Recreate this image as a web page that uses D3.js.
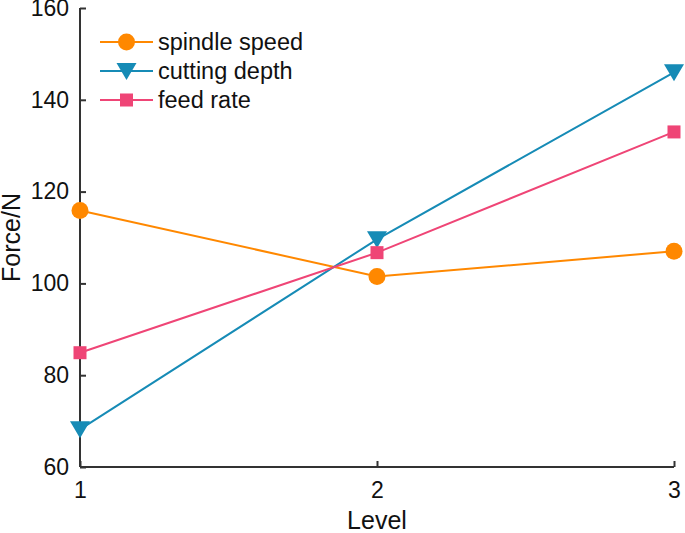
<!DOCTYPE html>
<html>
<head>
<meta charset="utf-8">
<script src="https://cdn.jsdelivr.net/npm/d3@7"></script>
<style>
  body { margin: 0; background: #fff; }
  text { font-family: "Liberation Sans", Arial, sans-serif; fill: #111; }
</style>
</head>
<body>
<svg id="chart" width="685" height="533"></svg>
<script>
// data
var levels = [1, 2, 3];
var spindleSpeed = [115.9, 101.5, 107];
var cuttingDepth = [68.2, 109.6, 146];
var feedRate = [84.9, 106.7, 133];
var yTicks = [60, 80, 100, 120, 140, 160];
var seriesNames = ['spindle speed', 'cutting depth', 'feed rate'];

var svg = d3.select('#chart');
var margin = { left: 80, right: 11, top: 8, bottom: 66 };
var width = 685 - margin.left - margin.right;
var height = 533 - margin.top - margin.bottom;

var x = d3.scaleLinear().domain([1, 3]).range([0, width]);
var y = d3.scaleLinear().domain([60, 160]).range([height, 0]);

var g = svg.append('g').attr('transform', 'translate(' + margin.left + ',' + margin.top + ')');

var series = [
  { name: seriesNames[0], values: spindleSpeed, color: '#ff8800', shape: 'circle' },
  { name: seriesNames[1], values: cuttingDepth, color: '#168bb6', shape: 'triangle' },
  { name: seriesNames[2], values: feedRate, color: '#ef4576', shape: 'square' }
];

// axes, ticks pointing inward
var xAxis = g.append('g').attr('transform', 'translate(0,' + height + ')')
  .call(d3.axisBottom(x).tickValues(levels).tickFormat(d3.format('d')).tickSizeInner(-6).tickSizeOuter(0).tickPadding(15));
var yAxis = g.append('g')
  .call(d3.axisLeft(y).tickValues(yTicks).tickSizeInner(-6).tickSizeOuter(0).tickPadding(11));

[xAxis, yAxis].forEach(function (a) {
  a.select('.domain').attr('stroke', '#333').attr('stroke-width', 2);
  a.selectAll('.tick line').attr('stroke', '#333').attr('stroke-width', 2);
  a.selectAll('.tick text').attr('font-size', 23).attr('fill', '#111')
    .style('font-family', '"Liberation Sans", Arial, sans-serif');
});
xAxis.select('.domain').attr('d', 'M0,0H' + width);
yAxis.select('.domain').attr('d', 'M0,' + height + 'V0');

function marker(sel, shape, color) {
  if (shape === 'circle') {
    sel.append('circle').attr('r', 8.5).attr('fill', color);
  } else if (shape === 'square') {
    sel.append('rect').attr('x', -6.5).attr('y', -6.5).attr('width', 13).attr('height', 13).attr('fill', color);
  } else {
    sel.append('path').attr('d', 'M-10,-8L10,-8L0,9Z').attr('fill', color);
  }
}

var line = d3.line()
  .x(function (d, i) { return x(levels[i]); })
  .y(function (d) { return y(d); });

series.forEach(function (s) {
  g.append('path').datum(s.values)
    .attr('d', line)
    .attr('fill', 'none')
    .attr('stroke', s.color)
    .attr('stroke-width', 2);
  s.values.forEach(function (v, i) {
    var m = g.append('g').attr('transform', 'translate(' + x(levels[i]) + ',' + y(v) + ')');
    marker(m, s.shape, s.color);
  });
});

// legend
var legend = svg.append('g').attr('transform', 'translate(100,42)');
series.forEach(function (s, i) {
  var row = legend.append('g').attr('transform', 'translate(0,' + (i * 29) + ')');
  row.append('line').attr('x1', 0).attr('x2', 53).attr('stroke', s.color).attr('stroke-width', 2);
  var m = row.append('g').attr('transform', 'translate(26.5,0)');
  marker(m, s.shape, s.color);
  row.append('text').attr('x', 58).attr('y', 8).attr('font-size', 23.5).text(s.name);
});

// axis titles
svg.append('text').attr('x', margin.left + width / 2).attr('y', 529)
  .attr('text-anchor', 'middle').attr('font-size', 25).text('Level');
svg.append('text').attr('transform', 'translate(20,' + (margin.top + height / 2) + ') rotate(-90)')
  .attr('text-anchor', 'middle').attr('font-size', 25).text('Force/N');
</script>
</body>
</html>
